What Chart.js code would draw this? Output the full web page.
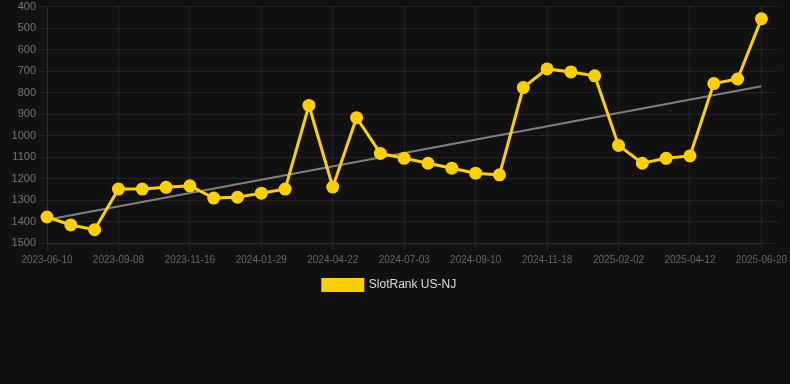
<!DOCTYPE html>
<html>
<head>
<meta charset="utf-8">
<script src="https://cdn.jsdelivr.net/npm/chart.js@4/dist/chart.umd.min.js"></script>
<style>
  html, body { margin: 0; padding: 0; background: #111111; overflow: hidden; }
  #wrap { position: relative; width: 790px; height: 304px; margin-top: -3px; }
</style>
</head>
<body>
<div id="wrap"><canvas id="chart"></canvas></div>
<script>
// dates (only every third one is shown on the axis)
const dates = [
  "2023-06-10", "2023-07-10", "2023-08-09",
  "2023-09-08", "2023-10-01", "2023-10-24",
  "2023-11-16", "2023-12-10", "2024-01-04",
  "2024-01-29", "2024-02-26", "2024-03-25",
  "2024-04-22", "2024-05-16", "2024-06-09",
  "2024-07-03", "2024-07-26", "2024-08-18",
  "2024-09-10", "2024-10-03", "2024-10-26",
  "2024-11-18", "2024-12-13", "2025-01-08",
  "2025-02-02", "2025-02-25", "2025-03-20",
  "2025-04-12", "2025-05-05", "2025-05-28",
  "2025-06-20"
];

// rank values (lower is better, axis is reversed)
const rankNJ = [
  1379, 1416, 1438,
  1249, 1249, 1241,
  1234, 1291, 1287,
  1268, 1249, 860,
  1240, 917, 1083,
  1106, 1129, 1152,
  1175, 1183, 777,
  690, 704, 722,
  1046, 1129, 1106,
  1095, 758, 737,
  457
];

// trend line end points
const trendStart = 1392;
const trendEnd = 771;

const yTicksMin = 400;
const yTicksMax = 1500;

const FONT = "'Liberation Sans', Arial, sans-serif";
const gridColor = "rgba(255,255,255,0.07)";

new Chart(document.getElementById("chart"), {
  type: "line",
  data: {
    labels: dates,
    datasets: [
      {
        label: "SlotRank US-NJ",
        data: rankNJ,
        borderColor: "#ffd000",
        backgroundColor: "#ffd000",
        borderWidth: 3,
        pointRadius: 5,
        pointHoverRadius: 6,
        pointBackgroundColor: "#ffd000",
        pointBorderColor: "#ffd000",
        tension: 0,
      },
      {
        label: "trend",
        data: [
          { x: dates[0], y: trendStart },
          { x: dates[dates.length - 1], y: trendEnd },
        ],
        borderColor: "#808080",
        borderWidth: 2,
        pointRadius: 0,
        fill: false,
      },
    ],
  },
  options: {
    responsive: true,
    maintainAspectRatio: false,
    animation: false,
    layout: { padding: { left: 0, right: 11 } },
    plugins: {
      legend: {
        position: "bottom",
        labels: {
          color: "#dddddd",
          font: { family: FONT, size: 12 },
          boxWidth: 40,
          boxHeight: 11,
          filter: (item) => item.text !== "trend",
        },
      },
      tooltip: { enabled: false },
    },
    scales: {
      x: {
        grid: { color: gridColor, tickLength: 8 },
        border: { color: gridColor },
        ticks: {
          color: "#666666",
          font: { family: FONT, size: 10 },
          maxRotation: 0,
          autoSkip: true,
          maxTicksLimit: 11,
        },
      },
      y: {
        reverse: true,
        min: yTicksMin,
        max: yTicksMax,
        afterFit: (scale) => { scale.width = 47; },
        grid: { color: gridColor, tickLength: 8 },
        border: { color: gridColor },
        ticks: {
          stepSize: 100,
          color: "#777777",
          font: { family: FONT, size: 11 },
          callback: (v) => String(v),
        },
      },
      yRight: {
        position: "right",
        reverse: true,
        min: yTicksMin,
        max: yTicksMax,
        grid: { color: gridColor, drawOnChartArea: false, tickLength: 17 },
        border: { display: false },
        ticks: { display: false, stepSize: 100 },
      },
    },
  },
});
</script>
</body>
</html>
